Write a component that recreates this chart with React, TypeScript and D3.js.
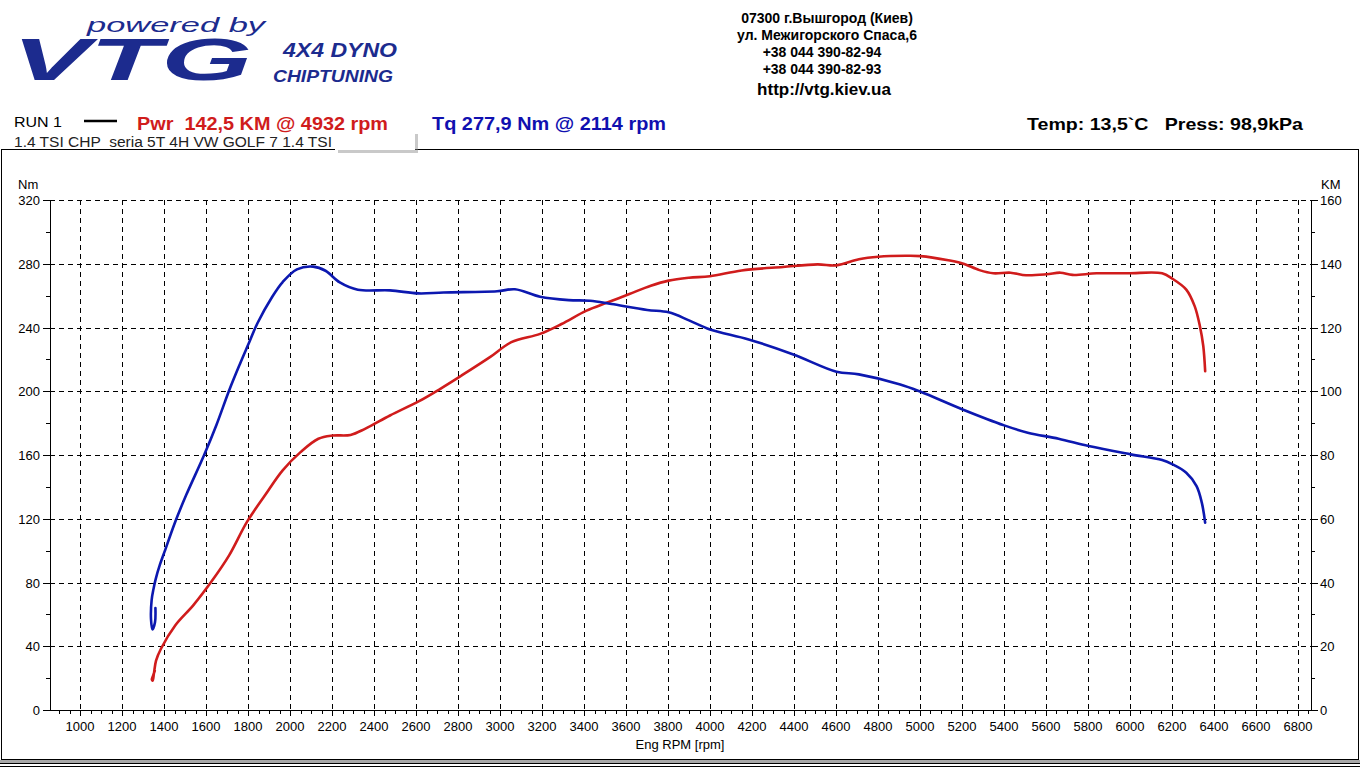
import React, { useEffect } from 'react';
import * as d3 from 'd3';

const torqueRpm = [1359, 1357, 1345, 1338, 1341, 1350, 1360, 1380, 1403, 1454, 1506, 1591, 1650, 1710, 1761, 1800, 1846, 1914, 1965, 2033, 2110, 2169, 2237, 2323, 2476, 2612, 2731, 2986, 3071, 3191, 3327, 3429, 3531, 3701, 3803, 3900, 4000, 4184, 4397, 4602, 4709, 4906, 5003, 5203, 5401, 5513, 5660, 5803, 6003, 6153, 6203, 6268, 6317, 6342, 6358];
const torqueNm = [64, 55, 50.5, 57, 69, 76, 82, 91, 99.5, 118.3, 135, 160, 179, 200.5, 217, 229, 243, 259, 268.5, 276.5, 278.2, 275.6, 268.3, 263.7, 263.3, 261.4, 262, 262.7, 264, 259.3, 257.2, 256.8, 254.7, 251, 249.5, 244.5, 238.8, 232.5, 223.1, 212.3, 210.6, 204.3, 199.7, 188.6, 178.6, 174, 170.2, 165.6, 160.4, 156.8, 154.1, 148.9, 140.5, 130.1, 117.5];

const powerRpm = [1356, 1348, 1342, 1346, 1352, 1362, 1386, 1454, 1540, 1625, 1710, 1795, 1880, 1965, 2050, 2135, 2203, 2288, 2357, 2476, 2612, 2714, 2816, 2952, 3054, 3191, 3293, 3412, 3514, 3616, 3718, 3803, 3900, 4000, 4151, 4348, 4512, 4602, 4709, 4802, 4932, 5003, 5135, 5203, 5283, 5349, 5431, 5505, 5603, 5669, 5726, 5841, 5989, 6153, 6202, 6268, 6308, 6333, 6349, 6358];
const powerKm = [12.3, 10.8, 9.6, 9.2, 11.5, 15.5, 19.3, 26.6, 32.9, 40.2, 48.5, 59, 67.3, 75.2, 80.9, 85.1, 86.1, 86.3, 88.2, 92.4, 96.8, 100.7, 104.9, 110.7, 115.4, 118, 121.1, 125.3, 127.9, 130.5, 133.1, 134.7, 135.6, 136.1, 137.9, 139, 139.8, 139.5, 141.4, 142.2, 142.5, 142.4, 141.1, 140.1, 138, 137, 137.2, 136.4, 136.7, 137.2, 136.5, 137, 137, 137, 135.3, 131.9, 126.7, 120.4, 114.2, 106.3];

const rpmTicks = [1000, 1200, 1400, 1600, 1800, 2000, 2200, 2400, 2600, 2800, 3000, 3200, 3400, 3600, 3800, 4000, 4200, 4400, 4600, 4800, 5000, 5200, 5400, 5600, 5800, 6000, 6200, 6400, 6600, 6800];
const nmTicks = [0, 40, 80, 120, 160, 200, 240, 280, 320];
const kmTicks = [0, 20, 40, 60, 80, 100, 120, 140, 160];

const addressLines = ['07300 г.Вышгород (Киев)', 'ул. Межигорского Спаса,6', '+38 044 390-82-94', '+38 044 390-82-93'];

const FONT = 'Liberation Sans, Arial, Helvetica, sans-serif';
const BLUE = '#0c18b0';
const RED = '#d01c1c';
const LOGO = '#1c2b8e';

export default function App() {
  useEffect(() => {
    document.body.style.margin = '0';
    document.body.style.overflow = 'hidden';
  }, []);

  const W = 1360, H = 768;
  const left = 50, right = 1311, top = 200, bottom = 710;

  const x = d3.scaleLinear().domain([857, 6862]).range([left, right]);
  const yNm = d3.scaleLinear().domain([0, 320]).range([bottom, top]);
  const yKm = d3.scaleLinear().domain([0, 160]).range([bottom, top]);

  const torquePts: [number, number][] = torqueRpm.map((r, i) => [x(r), yNm(torqueNm[i])]);
  const powerPts: [number, number][] = powerRpm.map((r, i) => [x(r), yKm(powerKm[i])]);
  const line = d3.line<[number, number]>().curve(d3.curveCatmullRom.alpha(0.5));

  const minorRpm = d3.range(900, 6851, 50).filter(v => v % 200 !== 0 && x(v) > left && x(v) < right);
  const minorNm = d3.range(20, 320, 40);
  const minorKm = d3.range(10, 160, 20);
  const px = (v: number) => Math.round(v) + 0.5;

  return (
    <svg width={W} height={H} style={{ position: 'absolute', left: 0, top: 0, background: '#fff' }} fontFamily={FONT}>
      <rect x={0} y={0} width={W} height={H} fill="#fff" />

      {/* Logo */}
      <g fill={LOGO} fontStyle="italic" fontWeight="bold">
        <text x={87} y={32} fontSize={20} fontWeight="normal" textLength={178} lengthAdjust="spacingAndGlyphs">powered by</text>
        <text x={12} y={80} fontSize={60} fontWeight={900} textLength={240} lengthAdjust="spacingAndGlyphs">VTG</text>
        <text x={283} y={57} fontSize={21} textLength={114} lengthAdjust="spacingAndGlyphs">4X4 DYNO</text>
        <text x={273} y={82} fontSize={17} textLength={120} lengthAdjust="spacingAndGlyphs">CHIPTUNING</text>
      </g>

      {/* Address */}
      <g fontWeight="bold" fontSize={14} textAnchor="middle" fill="#000">
        {addressLines.map((t, i) => (
          <text key={t} x={i < 2 ? 827 : 822} y={23 + i * 17}>{t}</text>
        ))}
        <text x={824} y={95} fontSize={17}>http://vtg.kiev.ua</text>
      </g>

      {/* Frame */}
      <rect x={1.5} y={149.5} width={1357} height={610} fill="none" stroke="#000" strokeWidth={1} />
      <rect x={0} y={760} width={1360} height={3.5} fill="#a8a8a8" />
      <line x1={0} x2={1360} y1={763.5} y2={763.5} stroke="#000" />
      <line x1={0} x2={1360} y1={766.5} y2={766.5} stroke="#000" />

      {/* White box with shadow */}
      <rect x={338} y={134} width={80} height={19} fill="#888" opacity={0.45} />
      <rect x={335} y={131} width={80} height={19} fill="#fff" />

      {/* Run header */}
      <text x={14} y={127} fontSize={15} fill="#000" textLength={48} lengthAdjust="spacingAndGlyphs">RUN 1</text>
      <line x1={84} x2={117} y1={121} y2={121} stroke="#000" strokeWidth={2.5} />
      <text x={137} y={130} fontSize={18} fontWeight="bold" fill={RED} textLength={251} lengthAdjust="spacingAndGlyphs" xmlSpace="preserve">Pwr  142,5 KM @ 4932 rpm</text>
      <text x={432} y={130} fontSize={18} fontWeight="bold" fill="#1010b0" textLength={234} lengthAdjust="spacingAndGlyphs">Tq 277,9 Nm @ 2114 rpm</text>
      <text x={14} y={147} fontSize={14} fill="#222" textLength={318} lengthAdjust="spacingAndGlyphs" xmlSpace="preserve">1.4 TSI CHP  seria 5T 4H VW GOLF 7 1.4 TSI</text>
      <text x={1027} y={130} fontSize={17} fontWeight="bold" fill="#000" textLength={276} lengthAdjust="spacingAndGlyphs" xmlSpace="preserve">Temp: 13,5`C   Press: 98,9kPa</text>

      {/* Grid */}
      <g stroke="#000" strokeWidth={1} strokeDasharray="5,4" shapeRendering="crispEdges">
        {nmTicks.filter(v => v > 0).map(v => (
          <line key={'h' + v} x1={left} x2={right} y1={px(yNm(v))} y2={px(yNm(v))} />
        ))}
        {rpmTicks.map(v => (
          <line key={'v' + v} x1={px(x(v))} x2={px(x(v))} y1={top} y2={bottom} />
        ))}
      </g>

      {/* Axes */}
      <g stroke="#000" strokeWidth={1} shapeRendering="crispEdges">
        <line x1={px(left)} x2={px(left)} y1={top} y2={bottom} />
        <line x1={px(right)} x2={px(right)} y1={top} y2={bottom} />
        <line x1={left - 7} x2={right + 7} y1={px(bottom)} y2={px(bottom)} />
        {nmTicks.map(v => (
          <line key={'ln' + v} x1={left - 7} x2={left} y1={px(yNm(v))} y2={px(yNm(v))} />
        ))}
        {minorNm.map(v => (
          <line key={'lm' + v} x1={left - 4} x2={left} y1={px(yNm(v))} y2={px(yNm(v))} />
        ))}
        {kmTicks.map(v => (
          <line key={'rn' + v} x1={right} x2={right + 7} y1={px(yKm(v))} y2={px(yKm(v))} />
        ))}
        {minorKm.map(v => (
          <line key={'rm' + v} x1={right} x2={right + 4} y1={px(yKm(v))} y2={px(yKm(v))} />
        ))}
        {rpmTicks.map(v => (
          <line key={'xt' + v} x1={px(x(v))} x2={px(x(v))} y1={bottom} y2={bottom + 6} />
        ))}
        {minorRpm.map(v => (
          <line key={'xm' + v} x1={px(x(v))} x2={px(x(v))} y1={bottom} y2={bottom + 4} />
        ))}
      </g>

      {/* Tick labels */}
      <g fontSize={13} fill="#000">
        {nmTicks.map(v => (
          <text key={'nl' + v} x={40} y={yNm(v) + 5} textAnchor="end">{v}</text>
        ))}
        {kmTicks.map(v => (
          <text key={'kl' + v} x={1320} y={yKm(v) + 5}>{v}</text>
        ))}
        {rpmTicks.map(v => (
          <text key={'rl' + v} x={x(v)} y={731} textAnchor="middle">{v}</text>
        ))}
        <text x={18} y={189}>Nm</text>
        <text x={1321} y={189}>KM</text>
        <text x={680} y={749} textAnchor="middle">Eng RPM [rpm]</text>
      </g>

      {/* Curves */}
      <path d={line(powerPts) || ''} fill="none" stroke={RED} strokeWidth={2.6} strokeLinejoin="round" strokeLinecap="round" />
      <path d={line(torquePts) || ''} fill="none" stroke={BLUE} strokeWidth={2.6} strokeLinejoin="round" strokeLinecap="round" />
    </svg>
  );
}
